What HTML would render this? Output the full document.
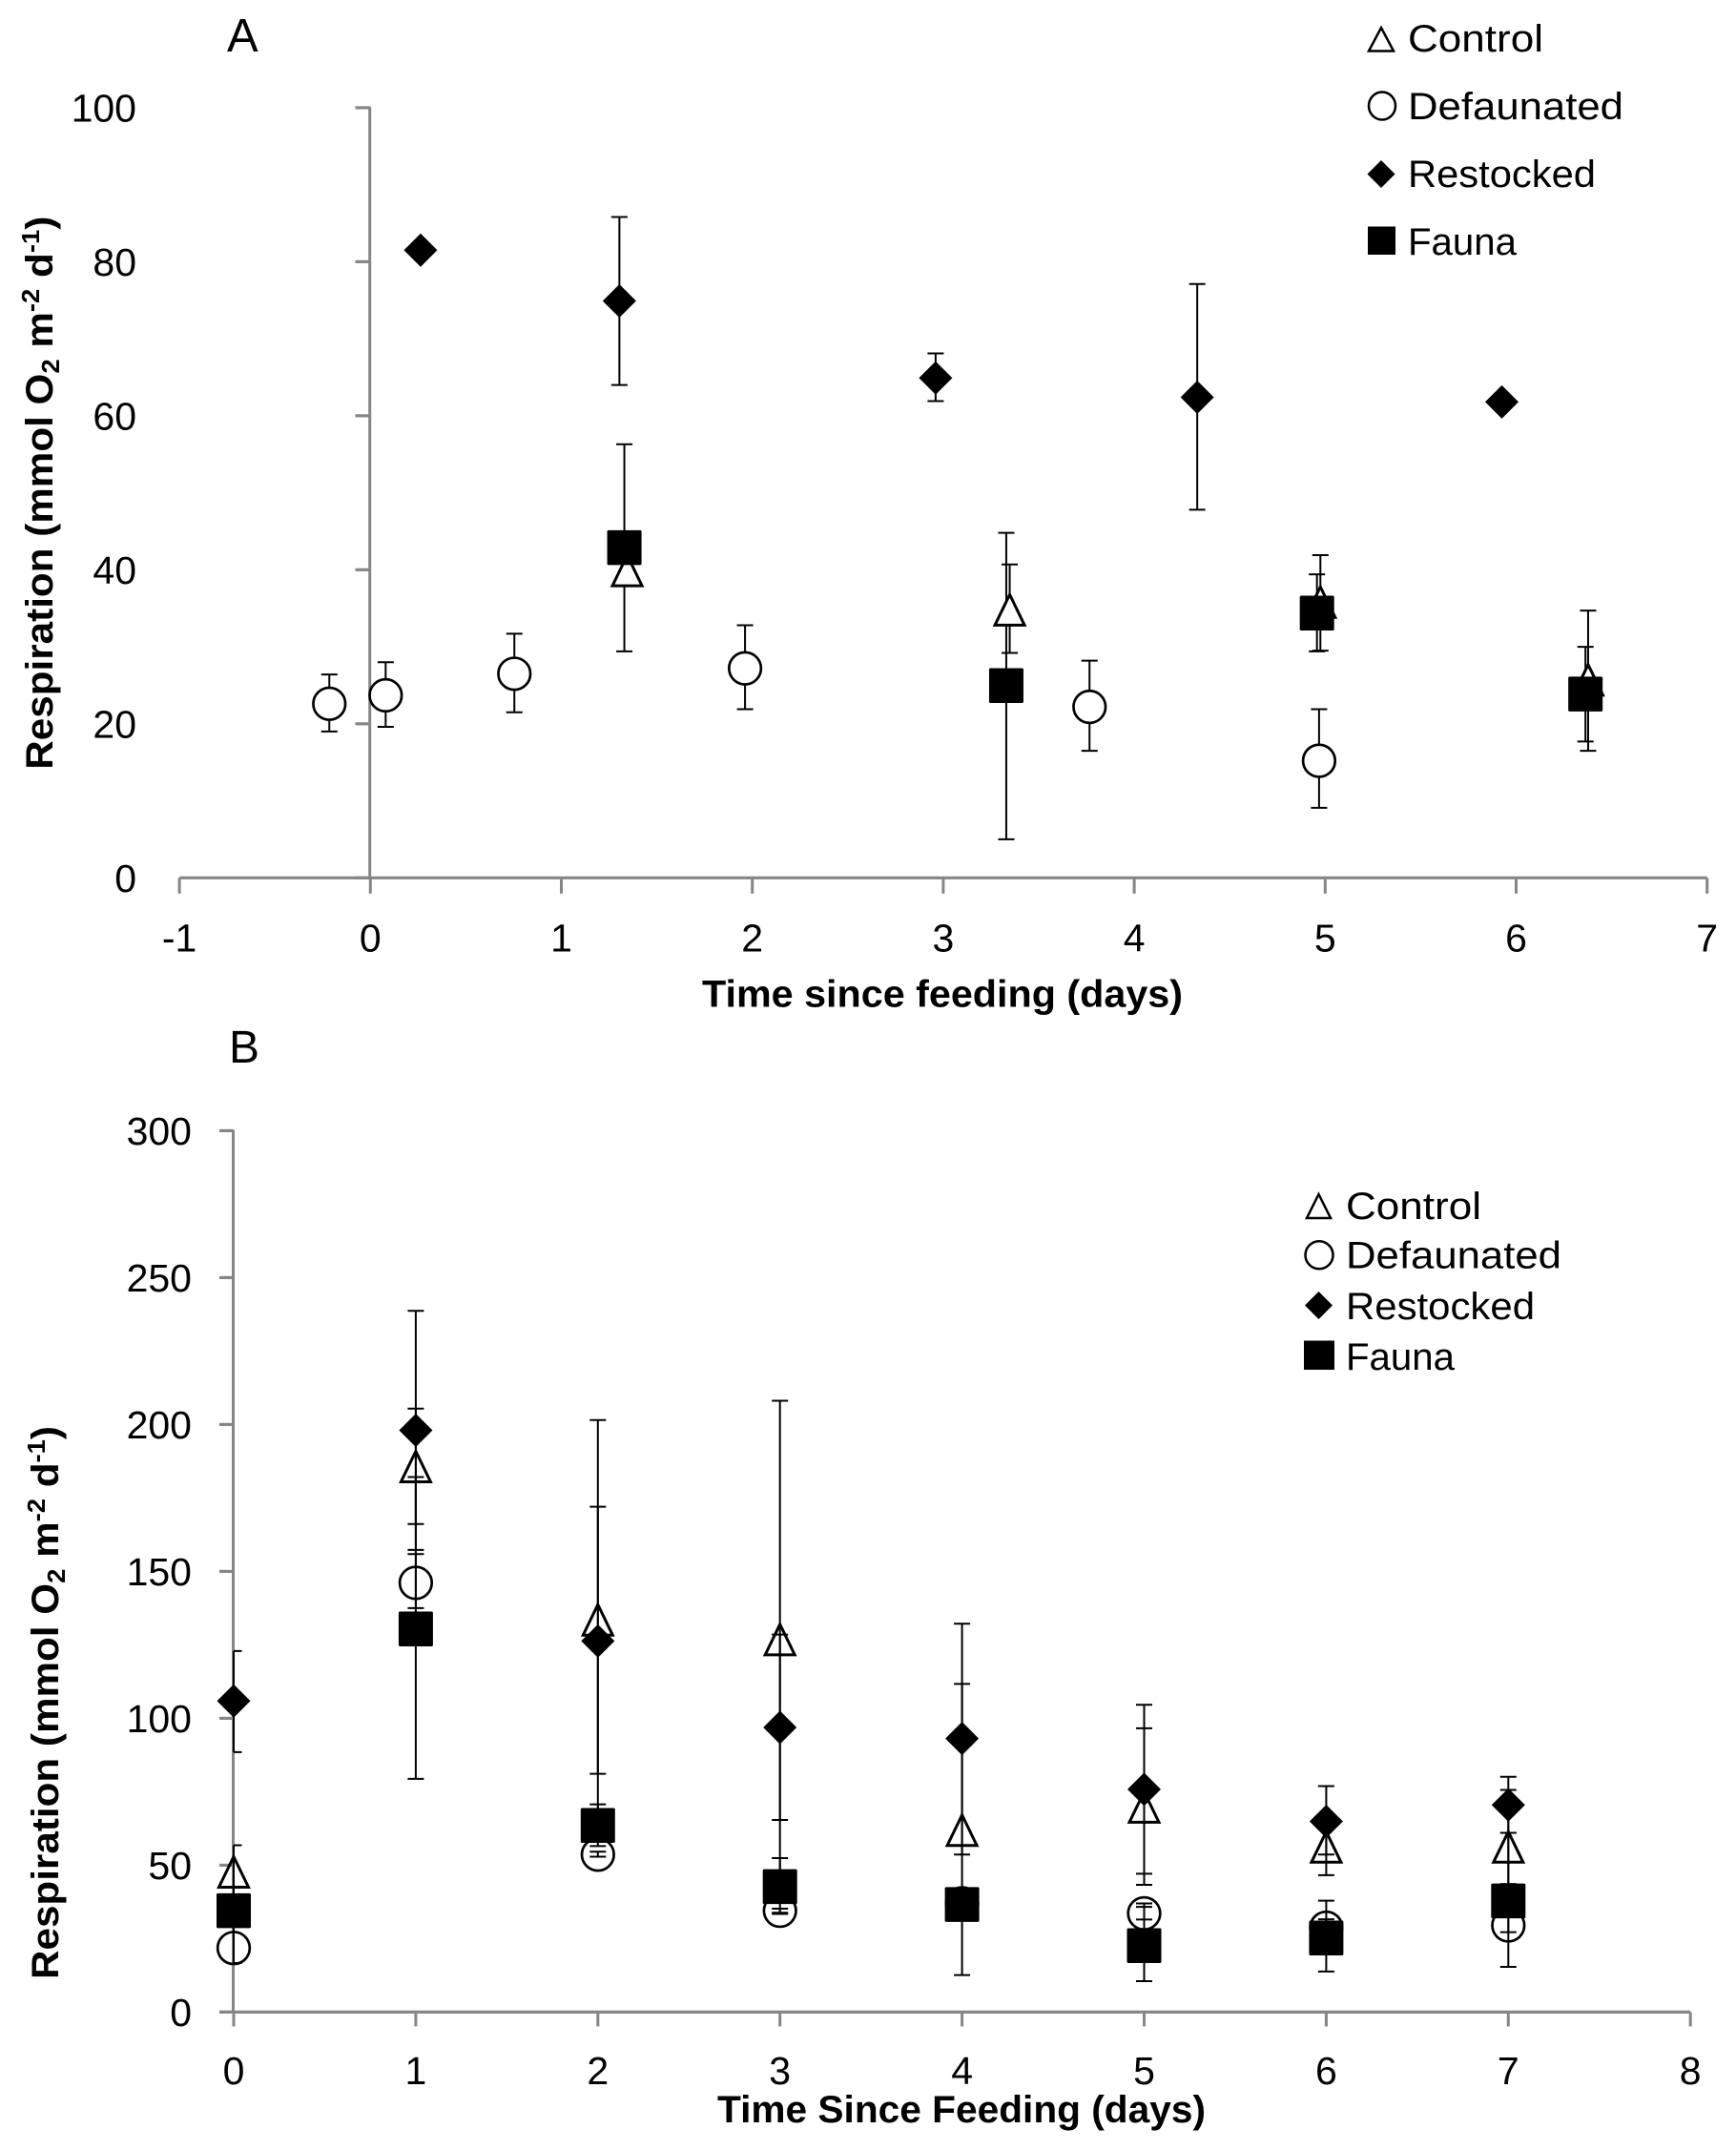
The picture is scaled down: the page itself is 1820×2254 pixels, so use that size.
<!DOCTYPE html>
<html lang="en">
<head>
<meta charset="utf-8">
<title>Respiration since feeding</title>
<style>
html,body{margin:0;padding:0;background:#fff;}
svg{display:block;}
text{font-family:"Liberation Sans",sans-serif;fill:#000;}
</style>
</head>
<body>
<svg id="chart" xmlns="http://www.w3.org/2000/svg" width="1820" height="2254" viewBox="0 0 1820 2254">
<rect x="0" y="0" width="1820" height="2254" fill="#fff"/>
<g id="panelA"></g>
<g id="panelB"></g>

<text x="238" y="54" font-size="49">A</text>
<text x="240" y="1114" font-size="48">B</text>

<text x="736" y="1055.5" font-size="40" font-weight="bold" textLength="504" lengthAdjust="spacingAndGlyphs">Time since feeding (days)</text>
<text x="752" y="2225" font-size="40" font-weight="bold" textLength="512" lengthAdjust="spacingAndGlyphs">Time Since Feeding (days)</text>

<text transform="translate(55,806.7) rotate(-90)" font-size="40" font-weight="bold" textLength="580" lengthAdjust="spacingAndGlyphs">Respiration (mmol O<tspan dy="7" font-size="26">2</tspan><tspan dy="-7"> m</tspan><tspan dy="-14" font-size="26">-2</tspan><tspan dy="14"> d</tspan><tspan dy="-14" font-size="26">-1</tspan><tspan dy="14">)</tspan></text>
<text transform="translate(61,2075) rotate(-90)" font-size="40" font-weight="bold" textLength="580" lengthAdjust="spacingAndGlyphs">Respiration (mmol O<tspan dy="7" font-size="26">2</tspan><tspan dy="-7"> m</tspan><tspan dy="-14" font-size="26">-2</tspan><tspan dy="14"> d</tspan><tspan dy="-14" font-size="26">-1</tspan><tspan dy="14">)</tspan></text>

<g>
  <polygon points="1448,29 1461,53.5 1435,53.5" fill="#fff" stroke="#000" stroke-width="2.5"/>
  <text x="1476" y="54" font-size="40" textLength="142" lengthAdjust="spacingAndGlyphs">Control</text>
  <ellipse cx="1449" cy="111" rx="14" ry="14.5" fill="#fff" stroke="#000" stroke-width="2.5"/>
  <text x="1476" y="125" font-size="40" textLength="226" lengthAdjust="spacingAndGlyphs">Defaunated</text>
  <polygon points="1448,168 1462.5,182.5 1448,197 1433.5,182.5" fill="#000"/>
  <text x="1476" y="196" font-size="40" textLength="197" lengthAdjust="spacingAndGlyphs">Restocked</text>
  <rect x="1434" y="237.5" width="29" height="29.5" fill="#000"/>
  <text x="1476" y="267" font-size="40" textLength="114" lengthAdjust="spacingAndGlyphs">Fauna</text>
</g>

<g>
  <polygon points="1382.5,1252 1395,1277 1370,1277" fill="#fff" stroke="#000" stroke-width="2.5"/>
  <text x="1411" y="1278" font-size="40" textLength="142" lengthAdjust="spacingAndGlyphs">Control</text>
  <ellipse cx="1383" cy="1315.7" rx="14.5" ry="14.5" fill="#fff" stroke="#000" stroke-width="2.5"/>
  <text x="1411" y="1329.5" font-size="40" textLength="226" lengthAdjust="spacingAndGlyphs">Defaunated</text>
  <polygon points="1382.5,1354 1397,1368.5 1382.5,1383 1368,1368.5" fill="#000"/>
  <text x="1411" y="1383" font-size="40" textLength="198" lengthAdjust="spacingAndGlyphs">Restocked</text>
  <rect x="1367" y="1405.5" width="32" height="30.5" fill="#000"/>
  <text x="1411" y="1436" font-size="40" textLength="114" lengthAdjust="spacingAndGlyphs">Fauna</text>
</g>
</svg>

<script>
// ---- Panel A data ----
const xTicksA = [-1, 0, 1, 2, 3, 4, 5, 6, 7];
const yTicksA = [0, 20, 40, 60, 80, 100];

const controlXA  = [1.345, 3.348, 4.975, 6.377];
const controlYA  = [39.9, 34.8, 35.8, 25.7];
const controlHiA = [null, 40.7, 41.9, 34.7];
const controlLoA = [null, 29.2, 29.5, 16.5];

const defaunatedXA  = [-0.215, 0.08, 0.754, 1.962, 3.766, 4.968];
const defaunatedYA  = [22.6, 23.7, 26.5, 27.2, 22.2, 15.2];
const defaunatedHiA = [26.4, 28.0, 31.7, 32.8, 28.2, 21.9];
const defaunatedLoA = [19.0, 19.6, 21.5, 21.9, 16.5, 9.1];

const restockedXA  = [0.263, 1.304, 2.96, 4.33, 5.925];
const restockedYA  = [81.5, 74.9, 64.9, 62.4, 61.8];
const restockedHiA = [null, 85.8, 68.1, 77.1, null];
const restockedLoA = [null, 64.0, 61.9, 47.8, null];

const faunaXA  = [1.33, 3.33, 4.957, 6.363];
const faunaYA  = [42.9, 25.0, 34.4, 23.9];
const faunaHiA = [56.3, 44.8, 39.4, 30.0];
const faunaLoA = [29.4, 5.0, 29.4, 17.7];

// ---- Panel B data ----
const xTicksB = [0, 1, 2, 3, 4, 5, 6, 7, 8];
const yTicksB = [0, 50, 100, 150, 200, 250, 300];
const daysB = [0, 1, 2, 3, 4, 5, 6, 7];

const controlYB  = [47.7, 185.7, 133.5, 126.8, 61.9, 69.8, 56.2, 56.2];
const controlHiB = [56.8, 205.4, 201.5, 208.1, 111.7, 96.6, 65.8, 75.6];
const controlLoB = [38.6, 166.1, 65.5, 45.5, 12.6, 43.3, 46.6, 36.8];

const defaunatedYB  = [21.8, 146.1, 53.6, 34.5, 37, 33.6, 28.7, 29.5];
const defaunatedHiB = [null, 155.9, 54.6, 35.2, null, 37, 31.6, 43.6];
const defaunatedLoB = [null, 137.5, 52.9, 33.8, null, 31.5, 25, 15.4];

const restockedYB  = [105.9, 198, 126.3, 96.9, 93.1, 75.8, 64.9, 70.5];
const restockedHiB = [122.9, 238.7, 172, 128.5, 132.2, 104.6, 76.9, 80.1];
const restockedLoB = [88.5, 157.3, 81.1, 65.4, 53.6, 47.1, 53.6, 61];

const faunaYB  = [34.6, 130.5, 63.6, 42.8, 36.7, 22.7, 25.3, 37.9];
const faunaHiB = [39, 182.1, 70.7, 52.4, null, 35.8, 37.9, 61];
const faunaLoB = [16.7, 79.4, 56.5, 33.4, null, 10.5, 13.8, 27.2];

// ---- Axis functions ----
function xA(v) { return 388.3 + 200.2 * v; }
function yA(v) { return 920.3 - 8.074 * v; }
function xB(v) { return 245 + 190.9 * v; }
function yB(v) { return 2109.4 - 3.08 * v; }

const NS = 'http://www.w3.org/2000/svg';
const AXIS = '#868686';

function make(parent, tag, attrs) {
  const el = document.createElementNS(NS, tag);
  for (const k in attrs) el.setAttribute(k, attrs[k]);
  parent.appendChild(el);
  return el;
}

function drawAxes(g, prefix, xs, ys, xTicks, yTicks, x0, tickLeft, tickLen, cfg) {
  const xMin = xs(xTicks[0]), xMax = xs(xTicks[xTicks.length - 1]);
  const yTop = ys(yTicks[yTicks.length - 1]), yBase = ys(0);

  const xLine = make(g, 'line', { x1: Math.min(xMin, tickLeft), y1: yBase, x2: xMax, y2: yBase, stroke: AXIS, 'stroke-width': 3.2 });
  
  

  const yLine = make(g, 'line', { x1: x0, y1: yTop - 1, x2: x0, y2: yBase, stroke: AXIS, 'stroke-width': 3 });
  
  

  xTicks.forEach(function (t) {
    const tick = make(g, 'line', { x1: xs(t), y1: yBase, x2: xs(t), y2: yBase + tickLen, stroke: AXIS, 'stroke-width': 3 });
    
    
    const lab = make(g, 'text', { x: xs(t), y: cfg.xLabelY, 'font-size': 41, 'text-anchor': 'middle' });
    lab.textContent = String(t);
    
    
  });
  yTicks.forEach(function (t) {
    const tick = make(g, 'line', { x1: tickLeft, y1: ys(t), x2: x0, y2: ys(t), stroke: AXIS, 'stroke-width': 3.2 });
    
    
    const lab = make(g, 'text', { x: cfg.yLabelX, y: ys(t) + 14.6, 'font-size': 41, 'text-anchor': 'end' });
    lab.textContent = String(t);
    
    
  });
}

function drawErrors(g, name, xs, ys, xv, hi, lo, leftLimit) {
  xv.forEach(function (v, i) {
    if (hi[i] === null || lo[i] === null) return;
    const px = xs(v);
    const bar = make(g, 'path', {
      d: 'M' + px + ' ' + ys(hi[i]) + 'V' + ys(lo[i]) +
         'M' + Math.max(px - 8.5, leftLimit) + ' ' + ys(hi[i]) + 'H' + (px + 8.5) +
         'M' + Math.max(px - 8.5, leftLimit) + ' ' + ys(lo[i]) + 'H' + (px + 8.5),
      stroke: '#000', 'stroke-width': 2, fill: 'none'
    });
    
    
  });
}

function drawMarker(g, name, shape, px, py, hollowFill) {
  let el;
  if (shape === 'triangle') {
    el = make(g, 'polygon', {
      points: px + ',' + (py - 16) + ' ' + (px + 15.5) + ',' + (py + 16) + ' ' + (px - 15.5) + ',' + (py + 16),
      fill: hollowFill, stroke: '#000', 'stroke-width': 3
    });
  } else if (shape === 'circle') {
    el = make(g, 'ellipse', { cx: px, cy: py, rx: 16.8, ry: 16.8, fill: hollowFill, stroke: '#000', 'stroke-width': 2.7 });
  } else if (shape === 'diamond') {
    el = make(g, 'polygon', {
      points: px + ',' + (py - 17.5) + ' ' + (px + 17.5) + ',' + py + ' ' + px + ',' + (py + 17.5) + ' ' + (px - 17.5) + ',' + py,
      fill: '#000'
    });
  } else {
    el = make(g, 'rect', { x: px - 18, y: py - 18, width: 36, height: 36.5, rx: 1.5, fill: '#000' });
  }
  
  
}

function drawSeriesMarkers(g, name, shape, xs, ys, xv, yv, hollowFill) {
  xv.forEach(function (v, i) { drawMarker(g, name, shape, xs(v), ys(yv[i]), hollowFill); });
}

// ---- Panel A ----
const gA = document.getElementById('panelA');
drawAxes(gA, 'panel-a', xA, yA, xTicksA, yTicksA, xA(0) - 0.6, 372.5, 16.5, { xLabelY: 997.7, yLabelX: 143 });
drawErrors(gA, 'a-control', xA, yA, controlXA, controlHiA, controlLoA, 0);
drawErrors(gA, 'a-defaunated', xA, yA, defaunatedXA, defaunatedHiA, defaunatedLoA, 0);
drawErrors(gA, 'a-restocked', xA, yA, restockedXA, restockedHiA, restockedLoA, 0);
drawErrors(gA, 'a-fauna', xA, yA, faunaXA, faunaHiA, faunaLoA, 0);
drawSeriesMarkers(gA, 'a-control', 'triangle', xA, yA, controlXA, controlYA, '#fff');
drawSeriesMarkers(gA, 'a-defaunated', 'circle', xA, yA, defaunatedXA, defaunatedYA, '#fff');
drawSeriesMarkers(gA, 'a-restocked', 'diamond', xA, yA, restockedXA, restockedYA, '#000');
drawSeriesMarkers(gA, 'a-fauna', 'square', xA, yA, faunaXA, faunaYA, '#000');

// ---- Panel B ----
const gB = document.getElementById('panelB');
drawAxes(gB, 'panel-b', xB, yB, xTicksB, yTicksB, xB(0) - 0.5, 230, 15, { xLabelY: 2185, yLabelX: 201 });
drawSeriesMarkers(gB, 'b-control', 'triangle', xB, yB, daysB, controlYB, 'none');
drawSeriesMarkers(gB, 'b-defaunated', 'circle', xB, yB, daysB, defaunatedYB, 'none');
drawErrors(gB, 'b-control', xB, yB, daysB, controlHiB, controlLoB, xB(0));
drawErrors(gB, 'b-defaunated', xB, yB, daysB, defaunatedHiB, defaunatedLoB, xB(0));
drawErrors(gB, 'b-restocked', xB, yB, daysB, restockedHiB, restockedLoB, xB(0));
drawErrors(gB, 'b-fauna', xB, yB, daysB, faunaHiB, faunaLoB, xB(0));
drawSeriesMarkers(gB, 'b-restocked', 'diamond', xB, yB, daysB, restockedYB, '#000');
drawSeriesMarkers(gB, 'b-fauna', 'square', xB, yB, daysB, faunaYB, '#000');
</script>
</body>
</html>
